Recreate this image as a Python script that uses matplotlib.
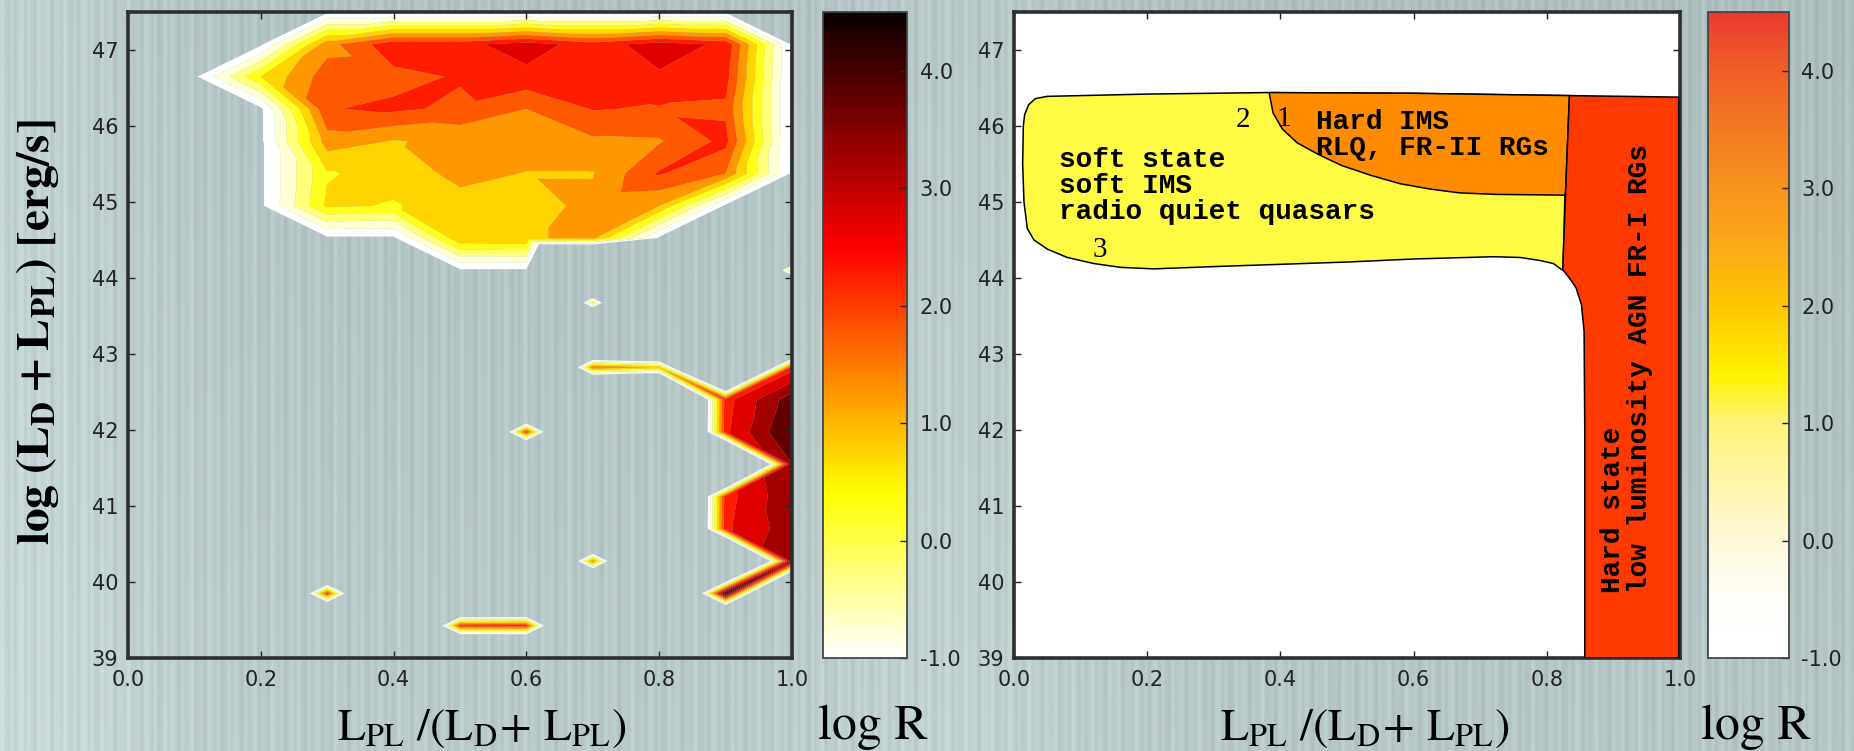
import numpy as np
import matplotlib
matplotlib.use("Agg")
import matplotlib.pyplot as plt
import matplotlib.tri as mtri
from matplotlib.colors import Normalize, LinearSegmentedColormap
from matplotlib.cm import ScalarMappable

plt.rcParams["mathtext.fontset"] = "stix"

# ---- binned map: log R over (L_PL/(L_D+L_PL), log(L_D+L_PL)) ----
frac = np.round(np.arange(0.0, 1.01, 0.1), 2)
lum = np.linspace(39.0, 47.5, 21)

E = -12.0   # empty bin
R = -1.6    # rim of a populated area

# rows from log L = 47.5 down to 39.0, columns frac = 0.0 ... 1.0
logR_rows = [
    [E, E, E, R, R, R, R, R, R, R, E],                              # 47.500
    [E, E, R, 1.30, 2.35, 2.35, 2.75, 2.25, 2.75, 2.40, R],         # 47.075
    [E, R, 0.50, 1.77, 1.84, 2.05, 2.35, 2.30, 2.43, 2.20, R],      # 46.650
    [E, E, R, 1.97, 2.10, 1.89, 1.50, 2.03, 1.95, 1.91, R],         # 46.225
    [E, E, R, 1.25, 0.97, 1.11, 1.25, 1.41, 1.45, 2.15, R],         # 45.800
    [E, E, R, 0.45, 0.70, 1.15, 0.98, 0.98, 2.05, 1.50, R],         # 45.375
    [E, E, R, 0.60, 0.45, 0.80, 0.85, 1.10, 1.00, R, E],            # 44.950
    [E, E, E, R, R, 0.90, 0.95, 1.10, R, E, E],                     # 44.525
    [E, E, E, E, E, R, R, E, E, E, 0.30],                           # 44.100
    [E, E, E, E, E, E, E, 0.20, E, E, E],                           # 43.675
    [E, E, E, E, E, E, E, E, E, E, E],                              # 43.250
    [E, E, E, E, E, E, E, 1.60, 0.90, E, 2.30],                     # 42.825
    [E, E, E, E, E, E, E, E, E, 2.30, 3.80],                        # 42.400
    [E, E, E, E, E, E, 2.20, E, E, 2.40, 4.10],                     # 41.975
    [E, E, E, E, E, E, E, E, E, E, 3.50],                           # 41.550
    [E, E, E, E, E, E, E, E, E, 2.30, 3.40],                        # 41.125
    [E, E, E, E, E, E, E, E, E, 2.40, 3.30],                        # 40.700
    [E, E, E, E, E, E, E, 1.50, E, E, 3.50],                        # 40.275
    [E, E, E, 2.20, E, E, E, E, E, 4.30, E],                        # 39.850
    [E, E, E, E, E, 2.20, 2.30, E, E, E, E],                        # 39.425
    [E, E, E, E, E, E, E, E, E, E, E],                              # 39.000
]
logR = np.array(logR_rows[::-1])

# ---- schematic regions (frac, log L) ----
soft_x = [0.014, 0.016, 0.022, 0.032, 0.05, 0.20, 0.38, 0.60, 0.832,
          0.828, 0.826, 0.824, 0.81, 0.79, 0.76, 0.72, 0.60, 0.50,
          0.40, 0.30, 0.21, 0.16, 0.12, 0.08, 0.05, 0.03, 0.02, 0.015, 0.013]
soft_y = [46.00, 46.15, 46.28, 46.36, 46.39, 46.42, 46.44, 46.43, 46.40,
          45.50, 44.60, 44.10, 44.19, 44.23, 44.27, 44.28, 44.25, 44.21,
          44.18, 44.15, 44.12, 44.14, 44.19, 44.27, 44.38, 44.50, 44.65, 45.00, 45.50]

ims_x = [0.383, 0.60, 0.834, 0.828, 0.723, 0.669, 0.625, 0.580, 0.536,
         0.492, 0.456, 0.425, 0.403, 0.389, 0.385]
ims_y = [46.44, 46.43, 46.40, 45.09, 45.10, 45.12, 45.17, 45.24, 45.35,
         45.48, 45.63, 45.78, 45.96, 46.17, 46.35]

hard_x = [0.834, 0.998, 0.998, 0.857, 0.857, 0.856, 0.852, 0.844, 0.834,
          0.824, 0.828]
hard_y = [46.40, 46.38, 39.00, 39.00, 42.00, 43.30, 43.65, 43.87, 44.00,
          44.11, 45.09]

soft_lines = ["soft state", "soft IMS", "radio quiet quasars"]
ims_lines = ["Hard IMS", "RLQ, FR-II RGs"]
hard_lines = ["Hard state", "low luminosity AGN FR-I RGs"]

# colour bar of the schematic
sch_stops = [-1.0, -0.5, 0.0, 1.0, 1.4, 2.0, 2.5, 3.0, 3.5, 4.0, 4.5]
sch_colors = ["#ffffff", "#fffefa", "#fef8d8", "#fff27a", "#fff200", "#ffc600",
              "#fbab18", "#f7941d", "#f47a22", "#f05f28", "#ec3a2f"]

vmin, vmax = -1.0, 4.5
cb_ticks = [-1, 0, 1, 2, 3, 4]
floor = -1.5   # lowest filled level


def pick_diagonal(za, zb, zc, zd):
    """True -> split cell along a-c, False -> along b-d."""
    s_ac = za > floor and zc > floor
    s_bd = zb > floor and zd > floor
    if s_ac != s_bd:
        return s_ac
    if not s_ac:
        # keep isolated peaks from leaking along a diagonal
        return max(za, zc) <= max(zb, zd)
    if min(za, zc) > max(zb, zd):
        return True
    if min(zb, zd) > max(za, zc):
        return False
    return abs(za - zc) <= abs(zb - zd)


def grid_triangulation(xs, ys, z):
    nx = len(xs)
    X, Y = np.meshgrid(xs, ys)
    zf = z.ravel()
    tris = []
    for j in range(len(ys) - 1):
        for i in range(nx - 1):
            a, b = j * nx + i, j * nx + i + 1
            c, d = (j + 1) * nx + i + 1, (j + 1) * nx + i
            if pick_diagonal(zf[a], zf[b], zf[c], zf[d]):
                tris += [[a, b, c], [a, c, d]]
            else:
                tris += [[a, b, d], [b, c, d]]
    return mtri.Triangulation(X.ravel(), Y.ravel(), np.array(tris)), zf


# ---- figure and striped backdrop ----
W, H = 1854, 751
fig = plt.figure(figsize=(W / 100, H / 100), dpi=100)

xx = np.arange(W, dtype=float)
yy = np.arange(H, dtype=float)[:, None]
stripe = (0.020 * np.sin(2 * np.pi * xx / 9.0)
          + 0.013 * np.sin(2 * np.pi * xx / 21.0 + 1.3)
          + 0.009 * np.sin(2 * np.pi * xx / 5.3 + 0.4))
lift = (0.05 * np.exp(-((xx - 30) / 140) ** 2)
        + 0.035 * np.exp(-((xx - 950) / 160) ** 2)
        - 0.02 * (xx / W))
shade = stripe[None, :] + lift[None, :] + 0.035 * (yy / H)
base = np.array([0.70, 0.765, 0.765])
bg = np.clip(base[None, None, :] + shade[:, :, None], 0, 1)
bg_ax = fig.add_axes([0, 0, 1, 1], zorder=-1)
bg_ax.imshow(bg, aspect="auto", interpolation="nearest")
bg_ax.axis("off")


def px_axes(x0, x1, y0, y1, **kw):
    return fig.add_axes([x0 / W, 1 - y1 / H, (x1 - x0) / W, (y1 - y0) / H], **kw)


def style_axes(ax):
    ax.set_xlim(0, 1)
    ax.set_ylim(39, 47.5)
    ax.set_xticks(np.arange(0, 1.01, 0.2))
    ax.set_xticklabels([f"{v:.1f}" for v in np.arange(0, 1.01, 0.2)])
    ax.set_yticks(range(39, 48))
    ax.tick_params(direction="in", top=True, right=True, length=5, width=1,
                   labelsize=15, colors="#222222")
    ax.tick_params(axis="x", pad=9)
    ax.tick_params(axis="y", pad=7)
    for s in ax.spines.values():
        s.set_linewidth(2.6)
        s.set_color("#2e2e2e")


def style_cbar(cax, mappable):
    cb = fig.colorbar(mappable, cax=cax, ticks=cb_ticks, format="%.1f")
    cb.outline.set_linewidth(1.3)
    cb.outline.set_edgecolor("#444444")
    cax.tick_params(direction="in", length=5, width=1, labelsize=15,
                    colors="#222222", pad=9)
    return cb


norm = Normalize(vmin, vmax)
levels = np.arange(floor, 4.51, 0.5)

# left: binned log R map
ax1 = px_axes(128, 792, 12, 658)
ax1.set_facecolor("none")
tri, zvals = grid_triangulation(frac, lum, logR)
ax1.tricontourf(tri, zvals, levels=levels, cmap="hot_r", norm=norm,
                antialiased=True)
style_axes(ax1)

cax1 = px_axes(823, 907, 12, 658)
style_cbar(cax1, ScalarMappable(norm=norm, cmap="hot_r"))

# right: state schematic
ax2 = px_axes(1014, 1680, 12, 658)
ax2.set_facecolor("white")
ax2.fill(soft_x, soft_y, facecolor="#fffb44", edgecolor="black", lw=1.1, zorder=2)
ax2.fill(ims_x, ims_y, facecolor="#ff8c00", edgecolor="black", lw=1.1, zorder=3)
ax2.fill(hard_x, hard_y, facecolor="#ff3a00", edgecolor="black", lw=1.1, zorder=4)

mono = dict(family="Liberation Mono", weight="bold", fontsize=20, color="black",
            zorder=6)
for line, yb in zip(soft_lines, [45.465, 45.12, 44.78]):
    ax2.text(0.067, yb, line, va="baseline", ha="left", **mono)
for line, yb in zip(ims_lines, [45.965, 45.62]):
    ax2.text(0.453, yb, line, va="baseline", ha="left", **mono)
for line, xc in zip(hard_lines, [0.90, 0.94]):
    ax2.text(xc, 39.86, line, rotation=90, rotation_mode="anchor",
             ha="left", va="center", **mono)

serif = dict(family="Liberation Serif", fontsize=21, color="black", zorder=6)
ax2.text(0.333, 45.99, "2", va="baseline", ha="left", **serif)
ax2.text(0.394, 46.00, "1", va="baseline", ha="left", **serif)
ax2.text(0.118, 44.27, "3", va="baseline", ha="left", **serif)
style_axes(ax2)

sch_cmap = LinearSegmentedColormap.from_list(
    "sch", [((s - vmin) / (vmax - vmin), c) for s, c in zip(sch_stops, sch_colors)])
cax2 = px_axes(1708, 1789, 12, 658)
style_cbar(cax2, ScalarMappable(norm=norm, cmap=sch_cmap))

# axis titles
xlab = r"$\mathrm{L_{PL}\ /(L_{D}\!+\,L_{PL})}$"
fig.text(482 / W, 1 - 727 / H, xlab, ha="center", va="center", fontsize=33)
fig.text(1365 / W, 1 - 727 / H, xlab, ha="center", va="center", fontsize=33)
fig.text(873 / W, 1 - 727 / H, "log R", family="STIXGeneral", ha="center",
         va="center", fontsize=36)
fig.text(1756 / W, 1 - 727 / H, "log R", family="STIXGeneral", ha="center",
         va="center", fontsize=36)
fig.text(38 / W, 1 - 332 / H, r"$\mathbf{log\ (L_D + L_{PL})\ [erg/s]}$",
         rotation=90, ha="center", va="center", fontsize=34)

fig.savefig("out.png", dpi=100)
